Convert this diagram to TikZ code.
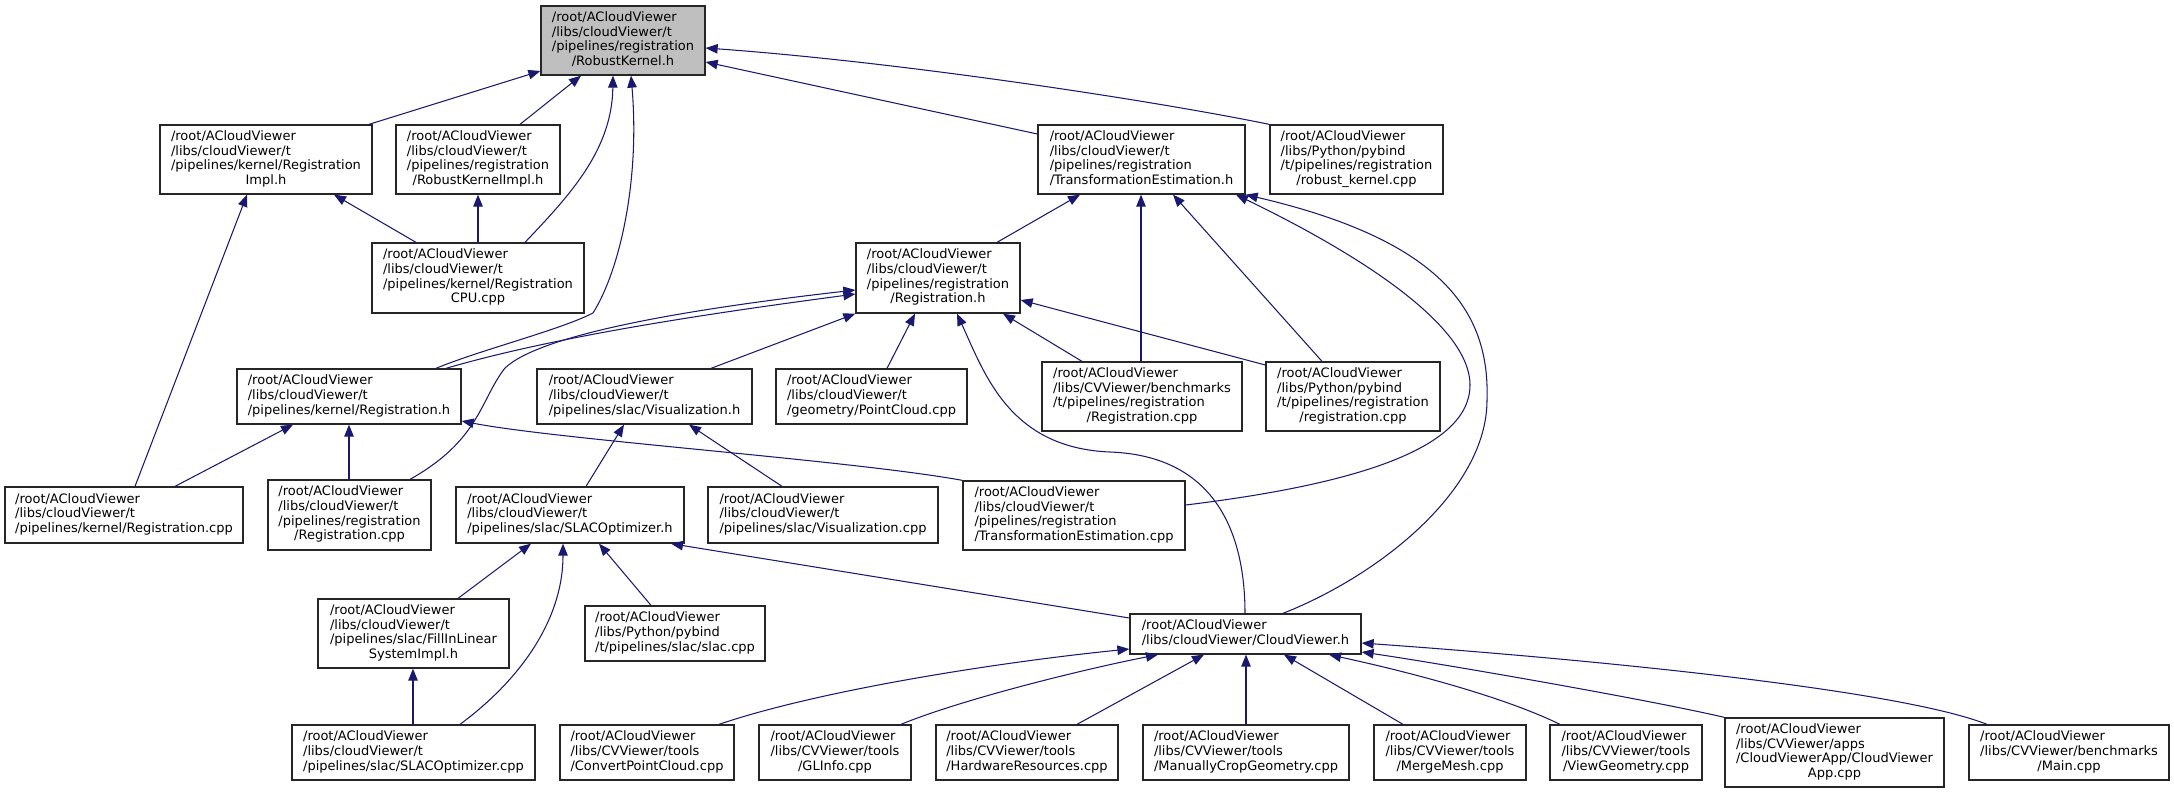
\documentclass[tikz,border=0pt]{standalone}
\usepackage{fontspec}
\setmainfont{DejaVu Sans}
\usetikzlibrary{arrows.meta}
\definecolor{cvblue}{HTML}{191970}
\definecolor{rootgray}{HTML}{BFBFBF}
\newcommand\lb[1]{\begin{tabular}{@{}l@{}}#1\end{tabular}}
\newcommand\lc[1]{\multicolumn{1}{@{}c@{}}{#1}}
\newcommand\bx[7][]{\node[box,#1,minimum width={#5pt-#3pt},minimum height={#6pt-#4pt}] (#2) at ({(#3+#5)/2},{(#4+#6)/2}) {\lb{#7}};}
\newcommand\RR{/root/ACloudViewer}
\newcommand\CC{/libs/cloudViewer/t}
\begin{document}
\begin{tikzpicture}[x=1pt,y=-1pt,
  box/.style={draw=black!85,line width=1.3pt,fill=white,inner sep=0pt,font=\fontsize{13}{14.7}\selectfont},
  dep/.style={draw=cvblue,line width=1.05pt,{Triangle[length=12pt,width=9.5pt,fill=cvblue]}-}]
\useasboundingbox (0,0) rectangle (2174,793);
\fill[white] (0,0) rectangle (2174,793);
% nodes
\bx[fill=rootgray]{root}{541}{6}{705}{75}{\RR\\\CC\\/pipelines/registration\\\lc{/RobustKernel.h}}
\bx{regimpl}{160}{125}{372}{194}{\RR\\\CC\\/pipelines/kernel/Registration\\\lc{Impl.h}}
\bx{rkimpl}{396}{125}{560}{194}{\RR\\\CC\\/pipelines/registration\\\lc{/RobustKernelImpl.h}}
\bx{teh}{1038}{125}{1245}{194}{\RR\\\CC\\/pipelines/registration\\\lc{/TransformationEstimation.h}}
\bx{robk}{1270}{125}{1443}{194}{\RR\\/libs/Python/pybind\\/t/pipelines/registration\\\lc{/robust\_kernel.cpp}}
\bx{cpu}{372}{243}{584}{313}{\RR\\\CC\\/pipelines/kernel/Registration\\\lc{CPU.cpp}}
\bx{regh}{856}{243}{1020}{313}{\RR\\\CC\\/pipelines/registration\\\lc{/Registration.h}}
\bx{kregh}{237}{369}{461}{424}{\RR\\\CC\\\lc{/pipelines/kernel/Registration.h}}
\bx{vish}{537}{369}{752}{424}{\RR\\\CC\\\lc{/pipelines/slac/Visualization.h}}
\bx{pcl}{776}{369}{967}{424}{\RR\\\CC\\\lc{/geometry/PointCloud.cpp}}
\bx{bench}{1042}{362}{1242}{431}{\RR\\/libs/CVViewer/benchmarks\\/t/pipelines/registration\\\lc{/Registration.cpp}}
\bx{pyreg}{1266}{362}{1440}{431}{\RR\\/libs/Python/pybind\\/t/pipelines/registration\\\lc{/registration.cpp}}
\bx{kregcpp}{5}{487}{243}{543}{\RR\\\CC\\\lc{/pipelines/kernel/Registration.cpp}}
\bx{rregcpp}{268}{480}{431}{550}{\RR\\\CC\\/pipelines/registration\\\lc{/Registration.cpp}}
\bx{slach}{456}{487}{684}{543}{\RR\\\CC\\\lc{/pipelines/slac/SLACOptimizer.h}}
\bx{viscpp}{708}{487}{938}{543}{\RR\\\CC\\\lc{/pipelines/slac/Visualization.cpp}}
\bx{tecpp}{963}{481}{1185}{550}{\RR\\\CC\\/pipelines/registration\\\lc{/TransformationEstimation.cpp}}
\bx{fill}{318}{599}{509}{668}{\RR\\\CC\\/pipelines/slac/FillInLinear\\\lc{SystemImpl.h}}
\bx{slaccpp}{585}{606}{765}{661}{\RR\\/libs/Python/pybind\\\lc{/t/pipelines/slac/slac.cpp}}
\bx{cvh}{1130}{614}{1361}{654}{\RR\\\lc{/libs/cloudViewer/CloudViewer.h}}
\bx{slacopt}{292}{725}{535}{780}{\RR\\\CC\\\lc{/pipelines/slac/SLACOptimizer.cpp}}
\bx{conv}{560}{725}{734}{780}{\RR\\/libs/CVViewer/tools\\\lc{/ConvertPointCloud.cpp}}
\bx{glinfo}{759}{725}{911}{780}{\RR\\/libs/CVViewer/tools\\\lc{/GLInfo.cpp}}
\bx{hw}{936}{725}{1118}{780}{\RR\\/libs/CVViewer/tools\\\lc{/HardwareResources.cpp}}
\bx{crop}{1143}{725}{1349}{780}{\RR\\/libs/CVViewer/tools\\\lc{/ManuallyCropGeometry.cpp}}
\bx{merge}{1374}{725}{1526}{780}{\RR\\/libs/CVViewer/tools\\\lc{/MergeMesh.cpp}}
\bx{viewg}{1550}{725}{1702}{780}{\RR\\/libs/CVViewer/tools\\\lc{/ViewGeometry.cpp}}
\bx{cvapp}{1725}{718}{1944}{787}{\RR\\/libs/CVViewer/apps\\/CloudViewerApp/CloudViewer\\\lc{App.cpp}}
\bx{main}{1969}{725}{2169}{780}{\RR\\/libs/CVViewer/benchmarks\\\lc{/Main.cpp}}
% edges to RobustKernel.h
\draw[dep] (root.west |- 0,71) -- (regimpl.north -| 369,0);
\draw[dep] (root.south -| 581,0) -- (rkimpl.north -| 520,0);
\draw[dep] (root.south -| 613,0) .. controls (612,150) and (570,195) .. (cpu.north -| 525,0);
\draw[dep] (root.south -| 631,0) .. controls (640,180) and (620,270) .. (593,313) .. controls (560,330) and (480,350) .. (kregh.north -| 436,0);
\draw[dep] (root.east |- 0,62) -- (teh.west |- 0,134);
\draw[dep] (root.east |- 0,48) .. controls (900,62) and (1150,100) .. (robk.north west);
% edges to TransformationEstimation.h
\draw[dep] (teh.south -| 1080,0) -- (regh.north -| 997,0);
\draw[dep] (teh.south -| 1141,0) -- (bench.north -| 1141,0);
\draw[dep] (teh.south -| 1173,0) -- (pyreg.north -| 1322,0);
\draw[dep] (teh.south -| 1236,0) .. controls (1340,245) and (1470,320) .. (1470,385) .. controls (1470,450) and (1350,485) .. (tecpp.east |- 0,505);
\draw[dep] (teh.south east) .. controls (1440,240) and (1490,310) .. (1487,400) .. controls (1487,490) and (1380,575) .. (cvh.north -| 1283,0);
% edges to registration/Registration.h
\draw[dep] (regh.west |- 0,294) .. controls (720,312) and (560,335) .. (kregh.north -| 446,0);
\draw[dep] (regh.west |- 0,290) .. controls (680,310) and (540,335) .. (505,368) .. controls (480,400) and (480,440) .. (rregcpp.north -| 410,0);
\draw[dep] (regh.south west) -- (vish.north -| 711,0);
\draw[dep] (regh.south -| 915,0) -- (pcl.north -| 887,0);
\draw[dep] (regh.south -| 1003,0) -- (bench.north -| 1082,0);
\draw[dep] (regh.east |- 0,300) -- (pyreg.west |- 0,365);
\draw[dep] (regh.south -| 957,0) .. controls (985,375) and (1010,448) .. (1110,452) .. controls (1220,456) and (1245,540) .. (cvh.north -| 1245,0);
% edges to kernel/Registration.h
\draw[dep] (kregh.south -| 293,0) -- (kregcpp.north -| 175,0);
\draw[dep] (kregh.south -| 349,0) -- (rregcpp.north -| 349,0);
\draw[dep] (kregh.east |- 0,421) .. controls (560,440) and (850,460) .. (tecpp.north west);
% RegistrationImpl.h, RobustKernelImpl.h
\draw[dep] (regimpl.south -| 247,0) -- (kregcpp.north -| 135,0);
\draw[dep] (regimpl.south -| 334,0) -- (cpu.north -| 416,0);
\draw[dep] (rkimpl.south -| 478,0) -- (cpu.north -| 478,0);
% Visualization.h
\draw[dep] (vish.south -| 624,0) -- (slach.north -| 586,0);
\draw[dep] (vish.south -| 689,0) -- (viscpp.north -| 782,0);
% SLACOptimizer.h
\draw[dep] (slach.south -| 531,0) -- (fill.north -| 458,0);
\draw[dep] (slach.south -| 563,0) .. controls (563,620) and (520,680) .. (slacopt.north -| 460,0);
\draw[dep] (slach.south -| 599,0) -- (slaccpp.north -| 651,0);
\draw[dep] (slach.south -| 671,0) -- (cvh.west |- 0,618);
\draw[dep] (fill.south -| 413,0) -- (slacopt.north -| 413,0);
% CloudViewer.h
\draw[dep] (cvh.west |- 0,649) .. controls (1000,662) and (820,690) .. (conv.north -| 719,0);
\draw[dep] (cvh.south -| 1158,0) .. controls (1080,670) and (960,700) .. (glinfo.north -| 901,0);
\draw[dep] (cvh.south -| 1204,0) -- (hw.north -| 1077,0);
\draw[dep] (cvh.south -| 1246,0) -- (crop.north -| 1246,0);
\draw[dep] (cvh.south -| 1284,0) -- (merge.north -| 1403,0);
\draw[dep] (cvh.south -| 1329,0) .. controls (1400,670) and (1500,695) .. (viewg.north -| 1560,0);
\draw[dep] (cvh.east |- 0,652) .. controls (1450,665) and (1650,700) .. (cvapp.north west);
\draw[dep] (cvh.east |- 0,643) .. controls (1600,660) and (1900,690) .. (main.north -| 1987,0);
\end{tikzpicture}
\end{document}
